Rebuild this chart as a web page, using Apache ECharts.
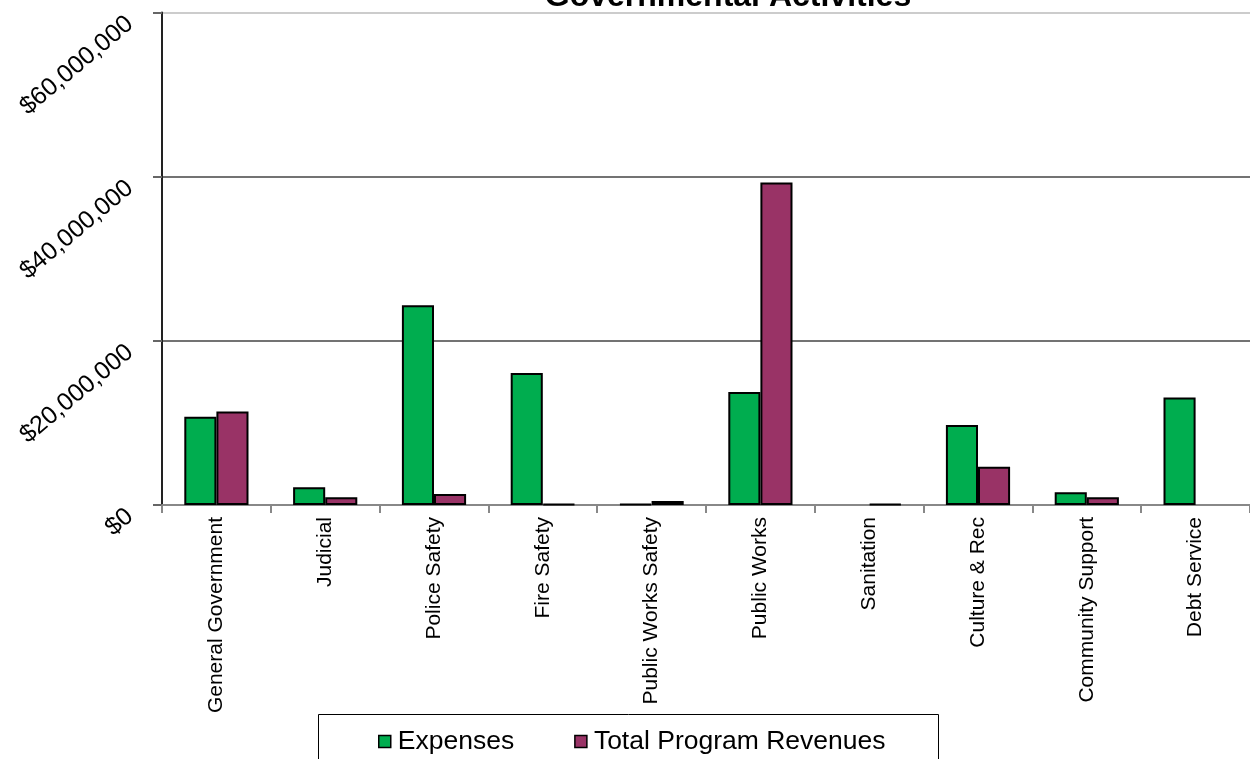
<!DOCTYPE html>
<html>
<head>
<meta charset="utf-8">
<script src="https://cdn.jsdelivr.net/npm/echarts@6/dist/echarts.min.js"></script>
<style>
html,body{margin:0;padding:0;background:#fff;}
#chart{width:1250px;height:759px;}
</style>
</head>
<body>
<div id="chart"></div>
<script>
const categories = ["General Government","Judicial","Police Safety","Fire Safety","Public Works Safety","Public Works","Sanitation","Culture & Rec","Community Support","Debt Service"];
const expenses = [10750000, 2150000, 24350000, 16070000, 100000, 13760000, 0, 9740000, 1550000, 13100000];
const revenues = [11400000, 940000, 1340000, 100000, 500000, 39300000, 100000, 4660000, 940000, 0];
const seriesNames = ["Expenses", "Total Program Revenues"];
const titleText = "Governmental Activities";
const yMin = 0, yMax = 60000000, yStep = 20000000;

const FONT = '"Liberation Sans", Arial, sans-serif';
const toData = arr => arr.map(v => v === 0 ? {value: v, itemStyle: {borderWidth: 0}} : v);
const chart = echarts.init(document.getElementById('chart'), null, {renderer: 'canvas'});
chart.setOption({
  animation: false,
  backgroundColor: '#fff',
  title: {
    text: titleText,
    left: 723, textAlign: 'center', top: -24,
    textStyle: {fontFamily: FONT, fontSize: 32, fontWeight: 'bold', color: '#000'}
  },
  grid: {left: 162, right: -2, top: 12.5, bottom: 254, containLabel: false},
  legend: {
    data: seriesNames,
    left: 373, top: 723,
    itemWidth: 12, itemHeight: 12, itemGap: 60,
    icon: 'rect',
    textStyle: {fontFamily: FONT, fontSize: 26.5, color: '#000', padding: [0,0,0,2]},
    itemStyle: {borderColor: '#000', borderWidth: 1.5}
  },
  graphic: [{
    type: 'rect', shape: {x: 318.5, y: 714.5, width: 620, height: 60},
    style: {fill: 'none', stroke: '#000', lineWidth: 1}, z: -1
  }],
  xAxis: {
    type: 'category', data: categories,
    axisLine: {lineStyle: {color: '#888', width: 2}},
    axisTick: {show: true, length: 8, lineStyle: {color: '#888', width: 2}},
    axisLabel: {rotate: 90, fontFamily: FONT, fontSize: 21, color: '#000', margin: 12, interval: 0}
  },
  yAxis: {
    type: 'value', min: yMin, max: yMax, interval: yStep,
    axisLine: {show: true, lineStyle: {color: '#222', width: 2}},
    axisTick: {show: true, length: 9, lineStyle: {color: '#666', width: 2}},
    splitLine: {show: true, lineStyle: {color: ['#888', '#444', '#444', '#bbb'], width: 1.5}},
    axisLabel: {
      rotate: 40, fontFamily: FONT, fontSize: 25, color: '#000', margin: 22,
      padding: [0, 13, 0, 0],
      formatter: v => '$' + v.toLocaleString('en-US')
    }
  },
  series: [
    {name: seriesNames[0], type: 'bar', data: toData(expenses), barGap: '0%', barCategoryGap: '41%',
     itemStyle: {color: '#00AD4F', borderColor: '#000', borderWidth: 2}},
    {name: seriesNames[1], type: 'bar', data: toData(revenues), barGap: '0%', barCategoryGap: '41%',
     itemStyle: {color: '#993366', borderColor: '#000', borderWidth: 2}}
  ]
});
</script>
</body>
</html>
